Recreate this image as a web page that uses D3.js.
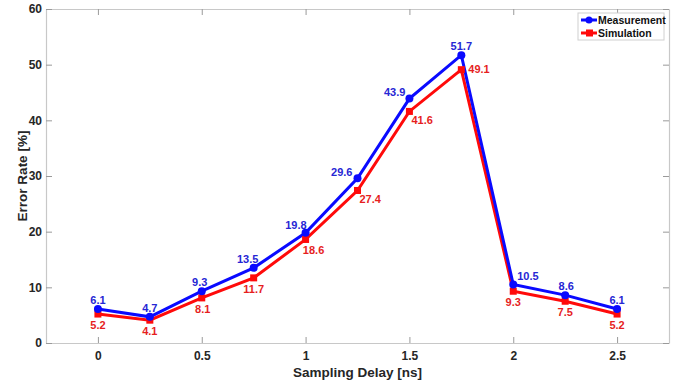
<!DOCTYPE html>
<html><head><meta charset="utf-8">
<script src="https://cdn.jsdelivr.net/npm/d3@7"></script>
<style>
html,body{margin:0;padding:0;background:#fff;}
svg{display:block;font-family:"Liberation Sans",Arial,sans-serif;font-weight:bold;}
</style></head>
<body><svg id="c" width="676" height="384"></svg>
<script>
const delays = [0, 0.25, 0.5, 0.75, 1, 1.25, 1.5, 1.75, 2, 2.25, 2.5];
const measurement = [6.1, 4.7, 9.3, 13.5, 19.8, 29.6, 43.9, 51.7, 10.5, 8.6, 6.1];
const simulation  = [5.2, 4.1, 8.1, 11.7, 18.6, 27.4, 41.6, 49.1, 9.3, 7.5, 5.2];
const xTicks = [0, 0.5, 1, 1.5, 2, 2.5];
const yTicks = [0, 10, 20, 30, 40, 50, 60];
const seriesNames = ["Measurement", "Simulation"];
// label placement (style, not data): [dx, dy, anchor]
const measPlace = [[0,-5,"middle"],[0,-5,"middle"],[-2,-5,"middle"],[-6,-5,"middle"],[1,-4,"end"],
                   [-5,-2,"end"],[-4,-3,"end"],[0,-5,"middle"],[4,-5,"start"],[1,-5,"middle"],[0,-5,"middle"]];
const simPlace  = [[0,15,"middle"],[0,15,"middle"],[1,15,"middle"],[0,15,"middle"],[8,15,"middle"],
                   [2,13,"start"],[2,13,"start"],[7,3,"start"],[0,15,"middle"],[0,15,"middle"],[0,15,"middle"]];

(function() {
const svg = d3.select("#c");
const L = 46, R = 669, T = 9, B = 343;
const x = d3.scaleLinear().domain([-0.25, 2.75]).range([L, R]);
const y = d3.scaleLinear().domain([0, 60]).range([B, T]);
const axisCol = "#c8c8c8", tickTxt = "#262626";

const g = svg.append("g");
const axB = g.append("g").attr("transform", `translate(0,${B})`)
  .call(d3.axisBottom(x).tickValues(xTicks).tickFormat(d3.format("")).tickSizeInner(-6).tickSizeOuter(0).tickPadding(8));
const axT = g.append("g").attr("transform", `translate(0,${T})`)
  .call(d3.axisTop(x).tickValues(xTicks).tickFormat("").tickSizeInner(-6).tickSizeOuter(0));
const axL = g.append("g").attr("transform", `translate(${L},0)`)
  .call(d3.axisLeft(y).tickValues(yTicks).tickSizeInner(-6).tickSizeOuter(0).tickPadding(4));
const axR = g.append("g").attr("transform", `translate(${R},0)`)
  .call(d3.axisRight(y).tickValues(yTicks).tickFormat("").tickSizeInner(-6).tickSizeOuter(0));
[axB, axT, axL, axR].forEach(a => {
  a.select(".domain").attr("stroke", axisCol).attr("stroke-width", 1.2);
  a.selectAll(".tick line").attr("stroke", "#9a9a9a").attr("stroke-width", 1);
  a.selectAll("text").attr("fill", tickTxt).attr("font-size", 12).attr("font-weight", "bold")
    .attr("font-family", '"Liberation Sans",Arial,sans-serif');
});

svg.append("text").attr("x", (L + R) / 2).attr("y", 377).attr("text-anchor", "middle")
  .attr("font-size", 13.5).attr("fill", tickTxt).text("Sampling Delay [ns]");
svg.append("text").attr("transform", `translate(27,${(T + B) / 2}) rotate(-90)`)
  .attr("text-anchor", "middle").attr("font-size", 13.5).attr("fill", tickTxt).text("Error Rate [%]");

const blue = "#0a0aff", red = "#ff0a0a";
const blueTxt = "#2626d4", redTxt = "#e61e1e";
const line = d3.line().x(d => x(d[0])).y(d => y(d[1]));
const mData = delays.map((d, i) => [d, measurement[i]]);
const sData = delays.map((d, i) => [d, simulation[i]]);

svg.append("path").datum(sData).attr("d", line).attr("fill", "none").attr("stroke", red).attr("stroke-width", 3);
svg.append("path").datum(mData).attr("d", line).attr("fill", "none").attr("stroke", blue).attr("stroke-width", 3);

svg.selectAll(".sq").data(sData).enter().append("rect")
  .attr("x", d => x(d[0]) - 3.5).attr("y", d => y(d[1]) - 3.5).attr("width", 7).attr("height", 7).attr("fill", red);
svg.selectAll(".ci").data(mData).enter().append("circle")
  .attr("cx", d => x(d[0])).attr("cy", d => y(d[1])).attr("r", 4).attr("fill", blue);

function addLabels(data, placeArr, col) {
  svg.append("g").selectAll("text").data(data).enter().append("text")
    .attr("x", (d, i) => x(d[0]) + placeArr[i][0])
    .attr("y", (d, i) => y(d[1]) + placeArr[i][1])
    .attr("text-anchor", (d, i) => placeArr[i][2])
    .attr("font-size", 11).attr("fill", col).text(d => d[1].toFixed(1));
}
addLabels(mData, measPlace, blueTxt);
addLabels(sData, simPlace, redTxt);

const lg = svg.append("g");
lg.append("rect").attr("x", 578).attr("y", 13).attr("width", 86).attr("height", 27)
  .attr("fill", "#fff").attr("stroke", "#d0d0d0").attr("stroke-width", 1);
const legCols = [blue, red];
seriesNames.forEach((n, i) => {
  const yy = 20 + i * 13;
  lg.append("line").attr("x1", 581).attr("x2", 597).attr("y1", yy).attr("y2", yy).attr("stroke", legCols[i]).attr("stroke-width", 3);
  if (i === 0) lg.append("circle").attr("cx", 589).attr("cy", yy).attr("r", 3.5).attr("fill", blue);
  else lg.append("rect").attr("x", 586).attr("y", yy - 3.5).attr("width", 7).attr("height", 7).attr("fill", red);
  lg.append("text").attr("x", 598).attr("y", yy + 4).attr("font-size", 10.5).attr("fill", "#111").text(n);
});
})();
</script></body></html>
